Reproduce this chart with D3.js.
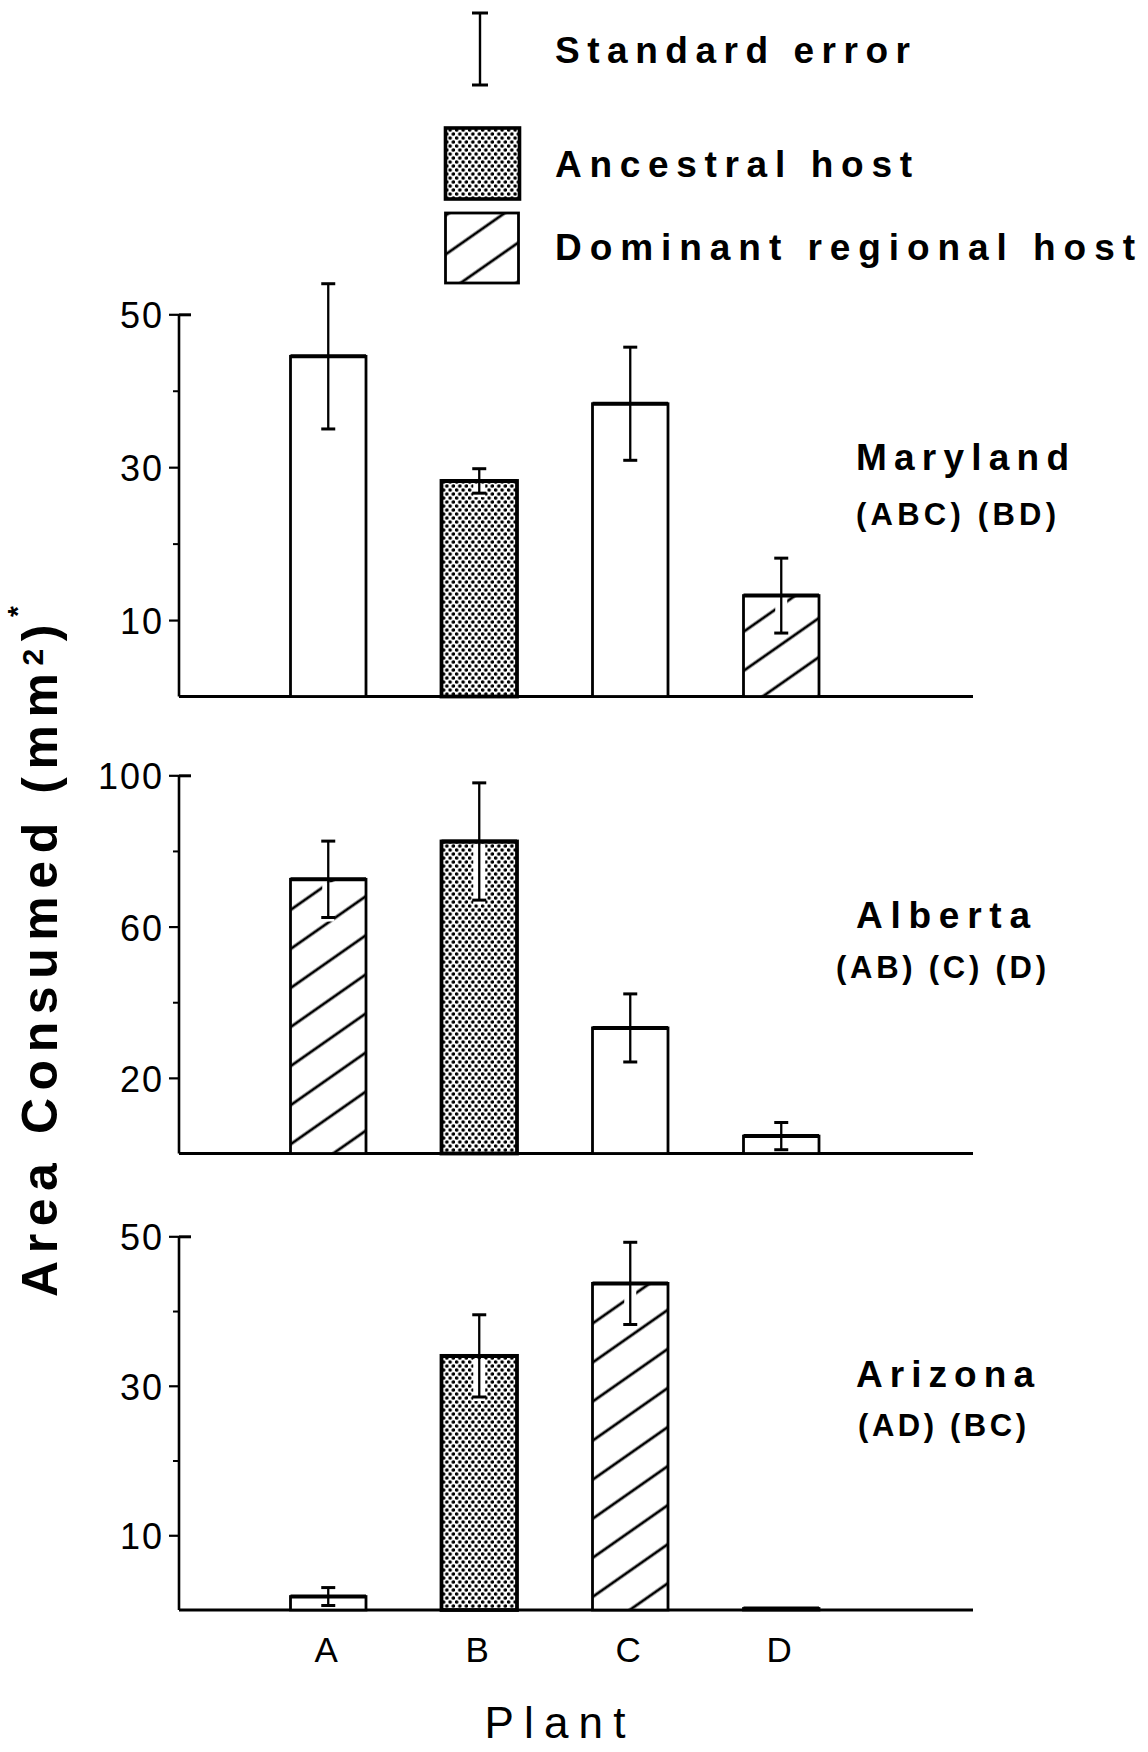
<!DOCTYPE html>
<html>
<head>
<meta charset="utf-8">
<script src="https://cdn.jsdelivr.net/npm/d3@7"></script>
<style>
  html, body { margin: 0; padding: 0; background: #fff; }
  svg { display: block; }
  text { font-family: "Liberation Sans", Arial, Helvetica, sans-serif; fill: #000; }
</style>
</head>
<body>
<svg id="chart" width="1148" height="1752"></svg>
<script>
// ---- data ----
const plants = ["A", "B", "C", "D"];
const regions = ["Maryland", "Alberta", "Arizona"];
const groupings = ["(ABC) (BD)", "(AB) (C) (D)", "(AD) (BC)"];

const marylandMean = [44.5, 28.2, 38.3, 13.2];
const marylandSE = [9.5, 1.6, 7.4, 4.9];
const marylandHost = ["none", "ancestral", "none", "dominant"];
const marylandTicks = [50, 30, 10];
const marylandMinor = [40, 20];

const albertaMean = [72.5, 82.5, 33.2, 4.6];
const albertaSE = [10.1, 15.5, 9, 3.6];
const albertaHost = ["dominant", "ancestral", "none", "none"];
const albertaTicks = [100, 60, 20];
const albertaMinor = [80, 40];

const arizonaMean = [1.8, 34, 43.7, 0.2];
const arizonaSE = [1.2, 5.5, 5.5, 0];
const arizonaHost = ["none", "ancestral", "dominant", "none"];
const arizonaTicks = [50, 30, 10];
const arizonaMinor = [40, 20];

const legendLabels = ["Standard error", "Ancestral host", "Dominant regional host"];
const xTitle = "Plant";
const yTitle = "Area Consumed (mm";

// ---- layout ----
const AXIS_X = 179;
const AXIS_END = 973;
const FILL = { none: "#fff", ancestral: "url(#dots)", dominant: "url(#hatch)" };

// each panel gets its own pixel range (zero line / top tick)
const panels = [
  { name: regions[0], group: groupings[0], mean: marylandMean, se: marylandSE, host: marylandHost,
    ticks: marylandTicks, minor: marylandMinor, max: 50, zero: 696.5, top: 314.3,
    title: { x: 856, y: 470, len: 213 }, sub: { x: 856, y: 525, len: 200 } },
  { name: regions[1], group: groupings[1], mean: albertaMean, se: albertaSE, host: albertaHost,
    ticks: albertaTicks, minor: albertaMinor, max: 100, zero: 1153.5, top: 775.3,
    title: { x: 856, y: 928, len: 174 }, sub: { x: 836, y: 978, len: 210 } },
  { name: regions[2], group: groupings[2], mean: arizonaMean, se: arizonaSE, host: arizonaHost,
    ticks: arizonaTicks, minor: arizonaMinor, max: 50, zero: 1610, top: 1236.3,
    title: { x: 856, y: 1387, len: 178 }, sub: { x: 858, y: 1436, len: 168 } },
];

const svg = d3.select("#chart");

// patterns: stipple for ancestral host, diagonal hatch for dominant host
const defs = svg.append("defs");
const dots = defs.append("pattern").attr("id", "dots")
  .attr("patternUnits", "userSpaceOnUse").attr("width", 6.5).attr("height", 8);
dots.append("rect").attr("width", 6.5).attr("height", 8).attr("fill", "#fff");
dots.append("circle").attr("cx", 1.6).attr("cy", 2).attr("r", 1.85).attr("fill", "#000");
dots.append("circle").attr("cx", 4.85).attr("cy", 6).attr("r", 1.85).attr("fill", "#000");

const hatch = defs.append("pattern").attr("id", "hatch")
  .attr("patternUnits", "userSpaceOnUse").attr("width", 30).attr("height", 32)
  .attr("patternTransform", "rotate(-35)");
hatch.append("rect").attr("width", 30).attr("height", 32).attr("fill", "#fff");
hatch.append("line").attr("x1", 0).attr("x2", 30).attr("y1", 16).attr("y2", 16)
  .attr("stroke", "#000").attr("stroke-width", 2.8);

const x = d3.scaleBand().domain(plants).range([215, 894.5]).paddingInner(0.5).paddingOuter(0.5);

panels.forEach((p) => {
  const y = d3.scaleLinear().domain([0, p.max]).range([p.zero, p.top]);
  const g = svg.append("g").attr("class", "panel");

  // labelled ticks
  g.append("g")
    .attr("transform", `translate(${AXIS_X},0)`)
    .call(d3.axisLeft(y).tickValues(p.ticks).tickSize(10).tickPadding(5).tickFormat(d3.format("d")))
    .call((a) => a.select(".domain").remove())
    .call((a) => a.selectAll("line").attr("stroke", "#000").attr("stroke-width", 2.2))
    .call((a) => a.selectAll("text").attr("fill", "#000").attr("dy", "0.38em")
      .style("font-size", "36px").style("letter-spacing", "2px")
      .style("font-family", '"Liberation Sans", Arial, sans-serif'));

  // small unlabelled ticks
  g.append("g")
    .attr("transform", `translate(${AXIS_X},0)`)
    .call(d3.axisLeft(y).tickValues(p.minor).tickSize(6).tickFormat(""))
    .call((a) => a.select(".domain").remove())
    .call((a) => a.selectAll("line").attr("stroke", "#000").attr("stroke-width", 2));

  // top tick crosses the axis (T shape)
  g.append("g")
    .attr("transform", `translate(${AXIS_X},0)`)
    .call(d3.axisRight(y).tickValues([p.max]).tickSize(12).tickFormat(""))
    .call((a) => a.select(".domain").remove())
    .call((a) => a.selectAll("line").attr("stroke", "#000").attr("stroke-width", 3));

  // axis lines
  g.append("line").attr("x1", AXIS_X).attr("x2", AXIS_X)
    .attr("y1", y(p.max)).attr("y2", y(0))
    .attr("stroke", "#000").attr("stroke-width", 2.6);
  g.append("line").attr("x1", AXIS_X).attr("x2", AXIS_END)
    .attr("y1", y(0)).attr("y2", y(0))
    .attr("stroke", "#000").attr("stroke-width", 2.8);

  const rows = plants.map((k, i) => ({ k, v: p.mean[i], se: p.se[i], host: p.host[i] }));

  g.selectAll("rect.bar").data(rows).join("rect")
    .attr("class", "bar")
    .attr("x", (d) => x(d.k))
    .attr("width", x.bandwidth())
    .attr("y", (d) => y(d.v))
    .attr("height", (d) => y(0) - y(d.v))
    .attr("fill", (d) => FILL[d.host])
    .attr("stroke", "#000")
    .attr("stroke-width", (d) => (d.host === "ancestral" ? 3.8 : 2.8));

  // heavier top edge, like the inked original
  g.selectAll("line.top").data(rows).join("line")
    .attr("class", "top")
    .attr("x1", (d) => x(d.k)).attr("x2", (d) => x(d.k) + x.bandwidth())
    .attr("y1", (d) => y(d.v)).attr("y2", (d) => y(d.v))
    .attr("stroke", "#000").attr("stroke-width", 4);

  const eb = rows.filter((d) => d.se > 0);
  const cx = (d) => x(d.k) + x.bandwidth() / 2;

  // white gap cut into the fill round the lower whisker
  g.selectAll("line.gap").data(eb).join("line")
    .attr("class", "gap")
    .attr("x1", cx).attr("x2", cx)
    .attr("y1", (d) => y(d.v) + 3).attr("y2", (d) => Math.min(y(d.v - d.se) + 4, y(0) - 2))
    .attr("stroke", "#fff").attr("stroke-width", 12);

  g.selectAll("line.err").data(eb).join("line")
    .attr("class", "err")
    .attr("x1", cx).attr("x2", cx)
    .attr("y1", (d) => y(d.v + d.se)).attr("y2", (d) => y(d.v - d.se))
    .attr("stroke", "#000").attr("stroke-width", 2.3);

  ["hi", "lo"].forEach((end) => {
    g.selectAll(`line.cap-${end}`).data(eb).join("line")
      .attr("class", `cap-${end}`)
      .attr("x1", (d) => cx(d) - 7).attr("x2", (d) => cx(d) + 7)
      .attr("y1", (d) => y(end === "hi" ? d.v + d.se : d.v - d.se))
      .attr("y2", (d) => y(end === "hi" ? d.v + d.se : d.v - d.se))
      .attr("stroke", "#000").attr("stroke-width", 3);
  });

  // region name and grouping of plants
  g.append("text").attr("x", p.title.x).attr("y", p.title.y)
    .attr("textLength", p.title.len).attr("lengthAdjust", "spacing")
    .style("font-size", "37px").style("font-weight", "bold")
    .text(p.name);
  g.append("text").attr("x", p.sub.x).attr("y", p.sub.y)
    .attr("textLength", p.sub.len).attr("lengthAdjust", "spacing")
    .style("font-size", "31px").style("font-weight", "bold")
    .text(p.group);
});

// category labels under the last panel
svg.append("g").selectAll("text").data(plants).join("text")
  .attr("x", (d) => x(d) + x.bandwidth() / 2 - 2)
  .attr("y", 1662)
  .attr("text-anchor", "middle")
  .style("font-size", "35px")
  .text((d) => d);

svg.append("text").attr("x", 555).attr("y", 1738)
  .attr("text-anchor", "middle")
  .attr("textLength", 141).attr("lengthAdjust", "spacing")
  .style("font-size", "44px")
  .text(xTitle);

const yt = svg.append("text")
  .attr("transform", "translate(57,951.5) rotate(-90)")
  .attr("text-anchor", "middle")
  .attr("textLength", 691).attr("lengthAdjust", "spacing")
  .style("font-size", "50px").style("font-weight", "bold");
yt.append("tspan").text(yTitle);
yt.append("tspan").attr("baseline-shift", "14").style("font-size", "30px").text("2");
yt.append("tspan").text(")");
yt.append("tspan").attr("baseline-shift", "30").style("font-size", "28px").text("*");

// ---- legend ----
const lg = svg.append("g").attr("class", "legend");
lg.append("line").attr("x1", 480).attr("x2", 480).attr("y1", 13).attr("y2", 85)
  .attr("stroke", "#000").attr("stroke-width", 2.4);
[13, 85].forEach((yy) => {
  lg.append("line").attr("x1", 472).attr("x2", 488).attr("y1", yy).attr("y2", yy)
    .attr("stroke", "#000").attr("stroke-width", 3);
});
lg.append("rect").attr("x", 445.5).attr("y", 128).attr("width", 74).attr("height", 71)
  .attr("fill", "url(#dots)").attr("stroke", "#000").attr("stroke-width", 3.6);
lg.append("rect").attr("x", 445.5).attr("y", 213).attr("width", 73).attr("height", 70)
  .attr("fill", "url(#hatch)").attr("stroke", "#000").attr("stroke-width", 2.8);

const legendText = [
  { y: 63, len: 355 },
  { y: 177, len: 357 },
  { y: 260, len: 580 },
];
lg.selectAll("text.lab").data(legendLabels).join("text")
  .attr("class", "lab")
  .attr("x", 555)
  .attr("y", (d, i) => legendText[i].y)
  .attr("textLength", (d, i) => legendText[i].len)
  .attr("lengthAdjust", "spacing")
  .style("font-size", "37px").style("font-weight", "bold")
  .text((d) => d);
</script>
</body>
</html>
